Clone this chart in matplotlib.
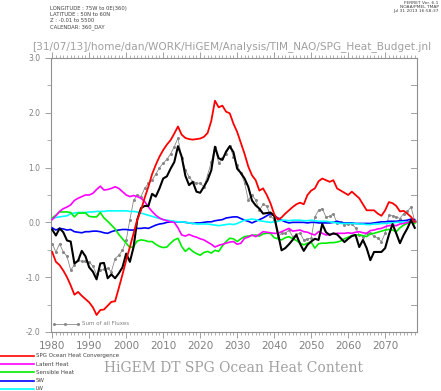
import matplotlib
matplotlib.use("Agg")
import matplotlib.pyplot as plt
from matplotlib.lines import Line2D
import numpy as np

years = np.arange(1980, 2079)

convergence = [
    -0.54, -0.72, -0.78, -0.88, -1.00, -1.15, -1.32, -1.27, -1.34, -1.40,
    -1.46, -1.55, -1.69, -1.60, -1.59, -1.52, -1.45, -1.44, -1.20, -0.95,
    -0.69, -0.45, -0.20, 0.05, 0.22, 0.45, 0.65, 0.88, 1.05, 1.20,
    1.32, 1.42, 1.50, 1.62, 1.75, 1.60, 1.54, 1.52, 1.51, 1.52,
    1.53, 1.56, 1.63, 1.85, 2.22, 2.10, 2.13, 2.02, 1.99, 1.80,
    1.65, 1.45, 1.25, 1.02, 0.86, 0.77, 0.58, 0.62, 0.50, 0.35,
    0.15, 0.05, 0.09, 0.16, 0.22, 0.28, 0.33, 0.36, 0.33, 0.50,
    0.58, 0.62, 0.75, 0.80, 0.77, 0.74, 0.77, 0.62, 0.58, 0.54,
    0.50, 0.56, 0.50, 0.44, 0.33, 0.22, 0.22, 0.22, 0.16, 0.12,
    0.22, 0.37, 0.35, 0.30, 0.20, 0.21, 0.16, 0.10, 0.01,
]
dt_heat = [
    -0.13, -0.24, -0.11, -0.18, -0.33, -0.35, -0.75, -0.70, -0.52, -0.62,
    -0.82, -0.90, -1.04, -0.75, -0.74, -1.02, -0.95, -1.02, -0.93, -0.82,
    -0.57, -0.72, -0.45, 0.05, 0.26, 0.30, 0.30, 0.52, 0.47, 0.62,
    0.80, 0.84, 0.98, 1.10, 1.39, 1.20, 0.85, 0.68, 0.74, 0.56,
    0.54, 0.65, 0.77, 0.95, 1.38, 1.17, 1.14, 1.29, 1.39, 1.28,
    0.98, 0.90, 0.80, 0.65, 0.40, 0.31, 0.25, 0.16, 0.17, 0.18,
    0.12, -0.20, -0.51, -0.47, -0.40, -0.32, -0.23, -0.39, -0.52, -0.41,
    -0.35, -0.30, -0.32, -0.03, -0.18, -0.23, -0.20, -0.22, -0.29, -0.36,
    -0.30, -0.25, -0.23, -0.45, -0.32, -0.47, -0.69, -0.54, -0.54, -0.54,
    -0.47, -0.23, -0.03, -0.20, -0.38, -0.23, -0.11, 0.04, -0.10,
]
flux_sum = [
    -0.39, -0.54, -0.39, -0.54, -0.62, -0.87, -0.78, -0.69, -0.71, -0.71,
    -0.72, -0.80, -0.95, -0.87, -0.86, -0.84, -0.90, -0.66, -0.60, -0.51,
    -0.33, 0.05, 0.40, 0.50, 0.47, 0.62, 0.71, 0.77, 0.88, 1.00,
    1.08, 1.15, 1.25, 1.38, 1.54, 1.17, 0.96, 0.83, 0.74, 0.72,
    0.71, 0.65, 0.86, 1.10, 1.38, 1.08, 1.17, 1.25, 1.39, 1.20,
    1.05, 0.90, 0.72, 0.41, 0.50, 0.41, 0.22, 0.33, 0.30, 0.12,
    0.05, -0.26, -0.20, -0.20, -0.14, -0.26, -0.22, -0.20, -0.32, -0.30,
    -0.29, 0.10, 0.22, 0.25, 0.10, 0.11, 0.16, -0.02, 0.01, -0.05,
    -0.03, -0.03, -0.10, -0.23, -0.26, -0.20, -0.20, -0.25, -0.29, -0.35,
    -0.20, 0.13, 0.12, 0.10, 0.07, 0.16, 0.20, 0.28, 0.02,
]
latent = [
    0.05, 0.12, 0.20, 0.25, 0.28, 0.32, 0.40, 0.44, 0.47, 0.50,
    0.50, 0.53, 0.60, 0.66, 0.59, 0.60, 0.62, 0.65, 0.62, 0.56,
    0.50, 0.47, 0.49, 0.47, 0.44, 0.38, 0.28, 0.20, 0.13, 0.08,
    0.05, 0.03, 0.01, 0.00, -0.10, -0.23, -0.25, -0.22, -0.25, -0.27,
    -0.30, -0.32, -0.36, -0.40, -0.45, -0.42, -0.40, -0.38, -0.36, -0.35,
    -0.40, -0.38, -0.29, -0.27, -0.23, -0.26, -0.22, -0.17, -0.18, -0.19,
    -0.20, -0.20, -0.17, -0.14, -0.11, -0.16, -0.15, -0.14, -0.17, -0.18,
    -0.21, -0.23, -0.17, -0.20, -0.23, -0.22, -0.21, -0.20, -0.20, -0.20,
    -0.19, -0.20, -0.18, -0.17, -0.19, -0.20, -0.15, -0.14, -0.12, -0.11,
    -0.08, -0.06, -0.05, -0.06, -0.03, -0.02, 0.00, 0.01, 0.02,
]
sensible = [
    0.08, 0.13, 0.19, 0.19, 0.19, 0.18, 0.10, 0.17, 0.17, 0.17,
    0.11, 0.10, 0.10, 0.18, 0.08, 0.02, -0.05, -0.12, -0.22, -0.30,
    -0.38, -0.46, -0.44, -0.34, -0.32, -0.33, -0.35, -0.35, -0.40, -0.44,
    -0.46, -0.45, -0.38, -0.32, -0.29, -0.44, -0.53, -0.47, -0.53, -0.57,
    -0.60, -0.55, -0.53, -0.56, -0.51, -0.53, -0.43, -0.35, -0.29, -0.30,
    -0.35, -0.30, -0.26, -0.25, -0.24, -0.23, -0.25, -0.21, -0.20, -0.20,
    -0.28, -0.30, -0.32, -0.28, -0.26, -0.30, -0.33, -0.38, -0.41, -0.38,
    -0.36, -0.47, -0.39, -0.38, -0.38, -0.37, -0.37, -0.36, -0.34, -0.30,
    -0.27, -0.24, -0.23, -0.23, -0.24, -0.26, -0.21, -0.20, -0.18, -0.16,
    -0.14, -0.13, -0.14, -0.17, -0.10, -0.05, -0.02, 0.03, -0.02,
]
shortwave = [
    -0.10, -0.14, -0.11, -0.12, -0.14, -0.13, -0.17, -0.18, -0.19, -0.17,
    -0.17, -0.16, -0.16, -0.17, -0.19, -0.20, -0.17, -0.15, -0.14, -0.13,
    -0.13, -0.14, -0.14, -0.11, -0.11, -0.10, -0.11, -0.08, -0.05, -0.03,
    -0.02, 0.00, 0.01, 0.01, 0.01, 0.01, 0.00, -0.01, -0.02, -0.01,
    -0.01, 0.00, 0.01, 0.01, 0.03, 0.04, 0.05, 0.08, 0.09, 0.10,
    0.10, 0.07, 0.04, 0.02, -0.01, 0.02, 0.05, 0.08, 0.12, 0.16,
    0.12, 0.08, 0.04, 0.01, -0.01, 0.00, 0.00, 0.00, 0.00, -0.01,
    0.00, 0.00, -0.01, -0.01, -0.01, -0.01, 0.00, 0.02, 0.00, -0.01,
    -0.01, -0.01, -0.02, -0.02, -0.02, -0.02, -0.02, -0.01, 0.00, 0.01,
    0.01, 0.02, 0.02, 0.02, 0.03, 0.03, 0.04, 0.06, 0.05,
]
longwave = [
    0.07, 0.09, 0.10, 0.11, 0.12, 0.16, 0.17, 0.18, 0.18, 0.18,
    0.19, 0.19, 0.20, 0.20, 0.20, 0.21, 0.21, 0.21, 0.21, 0.21,
    0.21, 0.20, 0.20, 0.19, 0.17, 0.15, 0.13, 0.11, 0.09, 0.07,
    0.05, 0.04, 0.03, 0.02, 0.01, 0.01, 0.00, -0.01, -0.02, -0.03,
    -0.03, -0.03, -0.03, -0.04, -0.05, -0.06, -0.05, -0.04, -0.03, -0.04,
    -0.02, 0.01, 0.04, 0.05, 0.06, 0.05, 0.03, 0.02, 0.01, 0.00,
    0.01, 0.02, 0.04, 0.04, 0.03, 0.04, 0.04, 0.04, 0.03, 0.03,
    0.04, 0.03, 0.02, 0.02, 0.02, 0.01, 0.00, -0.01, -0.02, -0.02,
    -0.02, -0.02, -0.02, -0.03, -0.03, -0.04, -0.04, -0.03, -0.03, -0.02,
    -0.02, -0.01, -0.01, 0.00, 0.00, 0.01, 0.01, 0.02, 0.02,
]

legend_labels = ["SPG Ocean Heat Convergence", "Latent Heat", "Sensible Heat", "SW", "LW"]
legend_colors = ["#ff0000", "#ff00ff", "#00ee00", "#0000ff", "#00ffff"]
axis_grey = "#909090"

fig = plt.figure(figsize=(4.41, 3.91), dpi=100)
ax = fig.add_axes([0.115, 0.151, 0.8305, 0.7007])

ax.plot(years, flux_sum, color="#888888", lw=0.6, marker="o", ms=1.2, zorder=2)
ax.plot(years, shortwave, color=legend_colors[3], lw=1.2, zorder=3)
ax.plot(years, longwave, color=legend_colors[4], lw=1.2, zorder=3)
ax.plot(years, sensible, color=legend_colors[2], lw=1.2, zorder=3)
ax.plot(years, latent, color=legend_colors[1], lw=1.2, zorder=3)
ax.plot(years, dt_heat, color="black", lw=1.5, zorder=4)
ax.plot(years, convergence, color=legend_colors[0], lw=1.3, zorder=5)

ax.set_xlim(1979.6, 2078.6)
ax.set_ylim(-2.0, 3.0)

for s in ax.spines.values():
    s.set_color(axis_grey)
    s.set_linewidth(0.8)

ax.set_xticks(np.arange(1980, 2071, 10))
ax.set_xticks(np.arange(1980, 2079, 1), minor=True)
ax.set_yticks(np.arange(-2.0, 3.01, 1.0))
ax.set_yticks(np.arange(-1.5, 3.0, 1.0), minor=True)
ax.set_yticklabels(["-2.0", "-1.0", "0.0", "1.0", "2.0", "3.0"])
ax.tick_params(axis="x", which="both", direction="out", top=True, bottom=True,
               colors=axis_grey, labelcolor="#808080", labelsize=7.5, pad=2)
ax.tick_params(axis="x", which="major", length=4.5, width=0.6)
ax.tick_params(axis="x", which="minor", length=2.5, width=0.5)
ax.tick_params(axis="y", which="both", direction="out", left=True, right=False,
               colors=axis_grey, labelcolor="#808080", labelsize=5.5)
ax.tick_params(axis="y", which="major", length=4, width=0.6)
ax.tick_params(axis="y", which="minor", length=3, width=0.5)
# inward ticks on the right side
for yv in np.arange(-2.0, 3.01, 0.5):
    ax.plot([0.985, 1.0], [yv, yv], transform=ax.get_yaxis_transform(),
            color=axis_grey, lw=0.6, clip_on=False)

# sum of all fluxes key inside the plot
ax.plot([0.01, 0.075], [0.03, 0.03], transform=ax.transAxes, color="#888888",
        lw=0.6, marker="o", ms=1.2, markevery=[0, 1])
ax.plot([0.04], [0.03], transform=ax.transAxes, color="#888888", marker="o", ms=1.2)
ax.text(0.085, 0.03, "Sum of all Fluxes", transform=ax.transAxes, fontsize=4,
        color="#808080", va="center")

# header text
fig.text(0.114, 0.985, "LONGITUDE : 75W to 0E(360)\nLATITUDE : 50N to 60N\n"
         "Z : -0.01 to 5500\nCALENDAR: 360_DAY", fontsize=3.8, color="#404040",
         va="top", linespacing=1.25)
fig.text(0.995, 0.998, "FERRET Ver. 6.1\nNOAA/PMEL TMAP\nJul 31 2013 16:58:37",
         fontsize=3.2, color="#404040", va="top", ha="right", linespacing=1.1)
fig.text(0.072, 0.882, "[31/07/13]/home/dan/WORK/HiGEM/Analysis/TIM_NAO/SPG_Heat_Budget.jnl",
         fontsize=7.6, color="#a0a0a0", va="center")

# legend at the bottom left
for i, (lab, col) in enumerate(zip(legend_labels, legend_colors)):
    yy = 1 - (356 + 8.2 * i) / 391
    fig.add_artist(Line2D([0.0, 0.077], [yy, yy], transform=fig.transFigure,
                          color=col, lw=1.2))
    fig.text(0.081, yy, lab, fontsize=4, color="#404040", va="center")

fig.text(0.53, 1 - 368 / 391, "HiGEM DT SPG Ocean Heat Content", fontsize=10,
         family="DejaVu Serif", color="#a0a0a0", ha="center", va="center")

fig.savefig("out.png", dpi=100)
